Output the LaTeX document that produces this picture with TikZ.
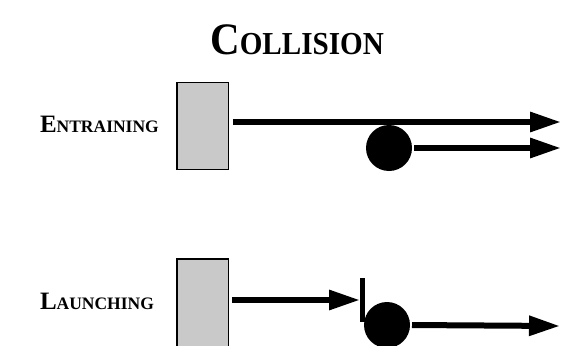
\documentclass[tikz,border=0pt]{standalone}
\usepackage{fontspec}
\setmainfont{Liberation Serif}
\usetikzlibrary{arrows.meta,positioning}

\begin{document}
\begin{tikzpicture}[x=1pt, y=-1pt,
    every node/.style={inner sep=0pt, outer sep=0pt},
    wall/.style={draw, line width=1.5pt, fill=gray!42, minimum width=51.5pt, minimum height=87pt},
    ball/.style={circle, fill=black, minimum size=46pt},
    push/.style={line width=6pt, -{Triangle[length=31pt, width=19pt]}},
    caption/.style={font=\bfseries\fontsize{17.5}{18}\selectfont, anchor=base west}]
    \clip (0,0) rectangle (564,345);
    \fill[white] (0,0) rectangle (564,345);

    \node[anchor=base] (title) at (297,55)
        {\bfseries\scalebox{0.91}[1]{\fontsize{45}{45}\selectfont C\fontsize{32}{32}\selectfont OLLISION}};

    % entraining
    \node[caption] (entr) at (40,132) {{\fontsize{25}{25}\selectfont E}NTRAINING};
    \node[wall] (box1) at (202.5,126) {};
    \node[ball] (ball1) at (389,148) {};
    \coordinate (tip1) at (561,122);
    \coordinate (tip2) at (561,148);
    \draw[push, shorten <=4.5pt] (box1.east |- tip1) -- (tip1);
    \draw[push, shorten <=2pt] (ball1.east) -- (tip2);

    % launching
    \node[caption] (laun) at (40,309) {{\fontsize{25}{25}\selectfont L}AUNCHING};
    \node[wall, minimum height=110pt, anchor=north] (box2) at (202.5,258.75) {};
    \node[fill=black, minimum width=5pt, minimum height=44pt] (stop) at (362.5,300) {};
    \node[ball] (ball2) at (387,325) {};
    \coordinate (tip4) at (560,326);
    \draw[push, shorten <=3.5pt] (box2.east |- stop.west) -- (stop.west);
    \draw[push, shorten <=2pt] (ball2.east) -- (tip4);
\end{tikzpicture}
\end{document}
